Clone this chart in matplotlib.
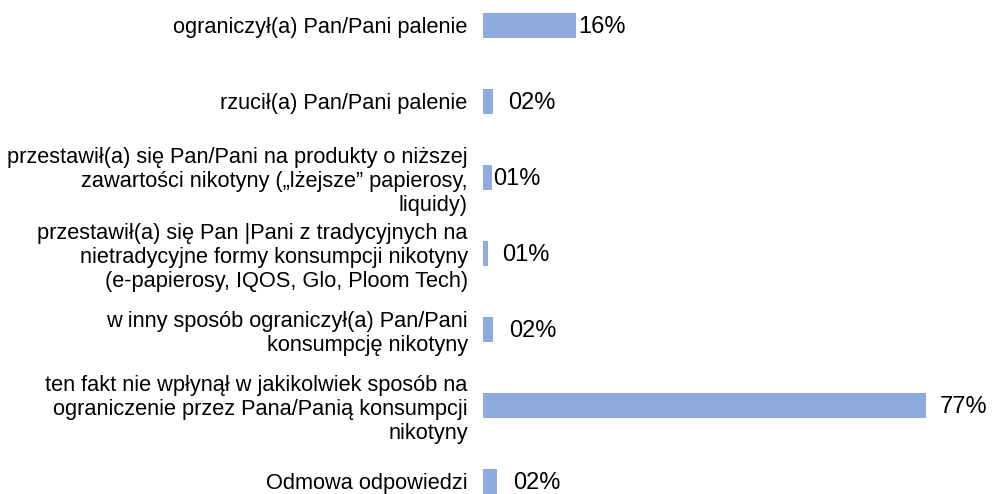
import matplotlib
matplotlib.use("Agg")
import matplotlib.pyplot as plt

categories = [
    "ograniczył(a) Pan/Pani palenie",
    "rzucił(a) Pan/Pani palenie",
    "przestawił(a) się Pan/Pani na produkty o niższej\nzawartości nikotyny („lżejsze” papierosy,\nliquidy)",
    "przestawił(a) się Pan |Pani z tradycyjnych na\nnietradycyjne formy konsumpcji nikotyny\n(e-papierosy, IQOS, Glo, Ploom Tech)",
    "w inny sposób ograniczył(a) Pan/Pani\nkonsumpcję nikotyny",
    "ten fakt nie wpłynął w jakikolwiek sposób na\nograniczenie przez Pana/Panią konsumpcji\nnikotyny",
    "Odmowa odpowiedzi",
]
values = [16.2, 1.7, 1.5, 0.8, 1.7, 77.0, 2.4]
value_labels = ["16%", "02%", "01%", "01%", "02%", "77%", "02%"]
label_pads = [2, 15, 1, 15, 16, 14, 16]  # px gap between bar end and label

plt.rcParams['font.family'] = ['Liberation Sans', 'DejaVu Sans']
W, H = 995, 494
fig = plt.figure(figsize=(W / 100, H / 100), dpi=100)
left = 483 / W
ax = fig.add_axes([left, 0, 1 - left, 1])

y = list(range(len(categories)))
ax.barh(y, values, height=0.34, color="#8FAADC")
ax.set_xlim(0, 89)
ax.set_ylim(6.165, -0.335)

for yi, v, lab, pad in zip(y, values, value_labels, label_pads):
    ax.annotate(lab, xy=(v, yi), xytext=(pad * 0.72, -1.2), textcoords="offset points",
                va="center", ha="left", fontsize=17, color="#000000")

ax.set_yticks(y)
ax.set_yticklabels(categories, fontsize=15.7, color="#000000", linespacing=1.2)
ax.tick_params(axis="y", length=0, pad=11)
ax.set_xticks([])
for s in ax.spines.values():
    s.set_visible(False)

fig.savefig("out.png", dpi=100)
